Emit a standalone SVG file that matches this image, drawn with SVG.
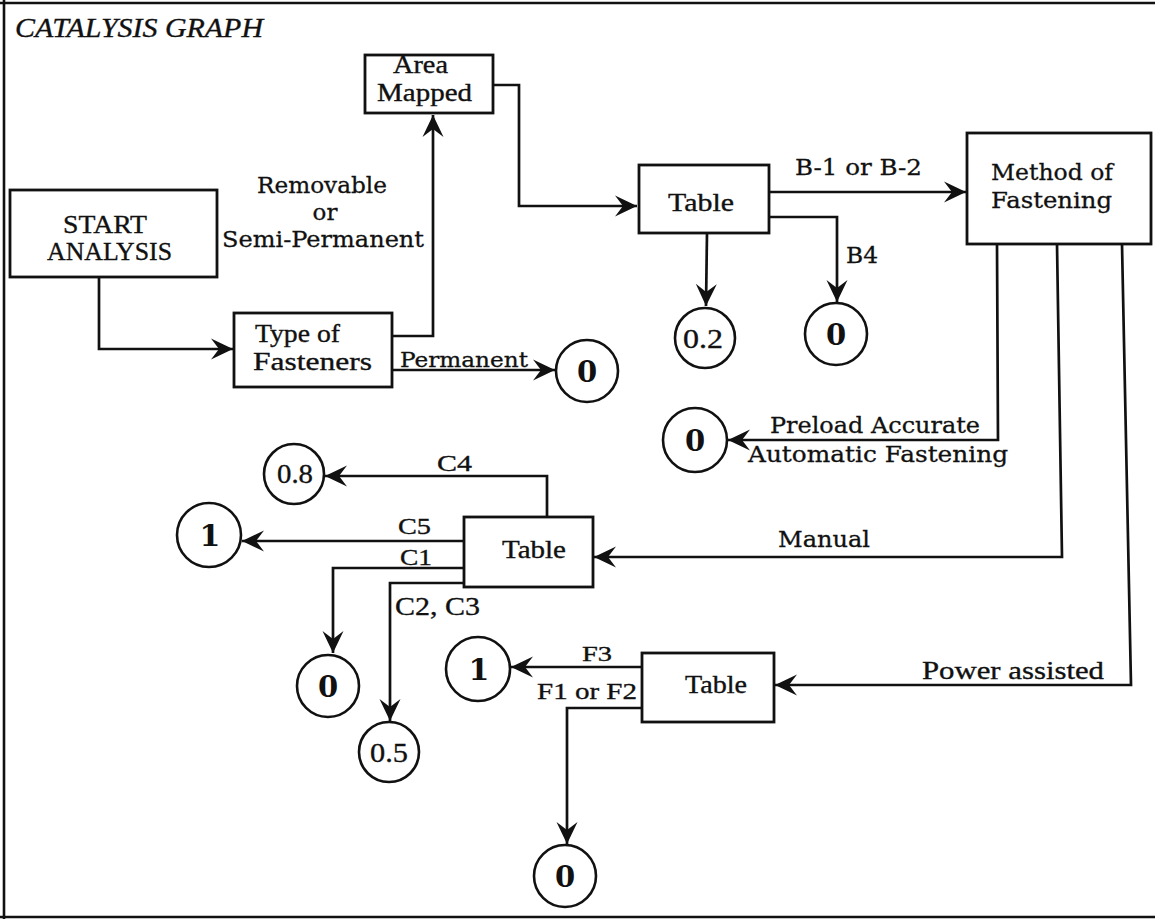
<svg xmlns="http://www.w3.org/2000/svg" width="1155" height="919" viewBox="0 0 1155 919">
<style>
.box{fill:#fff;stroke:#111;stroke-width:2.8}
.circ{fill:#fff;stroke:#111;stroke-width:2.6}
.ln{fill:none;stroke:#111;stroke-width:2.7;stroke-linejoin:miter}
.t{font-family:"Liberation Serif","Times New Roman",serif;fill:#111;stroke:#111;stroke-width:0.35}
.b{font-family:"DejaVu Serif","Liberation Serif",serif;fill:#111;stroke:#111;stroke-width:0.3}
.bold{font-family:"DejaVu Serif","Liberation Serif",serif;font-weight:bold;fill:#111;text-anchor:middle}
.mid{text-anchor:middle}
</style>
<defs>
<marker id="arr" markerUnits="userSpaceOnUse" viewBox="-24 -12 25 24" refX="0" refY="0" markerWidth="25" markerHeight="24" orient="auto">
<path d="M0,0 L-22,-10.5 L-14,0 L-22,10.5 Z" fill="#111"/>
</marker>
</defs>
<rect x="0" y="0" width="1155" height="919" fill="#fff"/>
<g id="frame" fill="none" stroke="#111" stroke-width="2.6">
<line x1="0" y1="3" x2="1155" y2="3"/>
<line x1="4" y1="0" x2="4" y2="919"/>
<line x1="0" y1="917" x2="1155" y2="917"/>
</g>
<text id="title" class="t" x="15" y="37" font-size="27" font-style="italic" textLength="248" lengthAdjust="spacingAndGlyphs">CATALYSIS GRAPH</text>

<g id="connectors">
<polyline class="ln" points="99,277 99,349 233,349" marker-end="url(#arr)"/>
<polyline class="ln" points="392,336 433,336 433,115" marker-end="url(#arr)"/>
<polyline class="ln" points="392,370 555,370" marker-end="url(#arr)"/>
<polyline class="ln" points="493,85 519,85 519,206 637,206" marker-end="url(#arr)"/>
<polyline class="ln" points="707,233 706,306" marker-end="url(#arr)"/>
<polyline class="ln" points="769,192 966,192" marker-end="url(#arr)"/>
<polyline class="ln" points="769,217 837,217 837,302" marker-end="url(#arr)"/>
<polyline class="ln" points="997,244 998,440 728,440" marker-end="url(#arr)"/>
<polyline class="ln" points="1057,244 1062,557 594,557" marker-end="url(#arr)"/>
<polyline class="ln" points="1122,244 1131,685 775,685" marker-end="url(#arr)"/>
<polyline class="ln" points="547,517 547,476 325,476" marker-end="url(#arr)"/>
<polyline class="ln" points="464,541 242,541" marker-end="url(#arr)"/>
<polyline class="ln" points="470,568 333,568 333,653" marker-end="url(#arr)"/>
<polyline class="ln" points="464,583 390,583 390,721" marker-end="url(#arr)"/>
<polyline class="ln" points="642,667 511,667" marker-end="url(#arr)"/>
<polyline class="ln" points="642,708 567,708 567,844" marker-end="url(#arr)"/>
</g>

<g id="labels">
<text class="b" x="257" y="193" font-size="23" textLength="130" lengthAdjust="spacingAndGlyphs">Removable</text>
<text class="b mid" x="325" y="220" font-size="23">or</text>
<text class="b" x="222" y="247" font-size="23" textLength="202" lengthAdjust="spacingAndGlyphs">Semi-Permanent</text>
<text class="b" x="400" y="367" font-size="20" textLength="128" lengthAdjust="spacingAndGlyphs">Permanent</text>
<text class="b" x="795" y="175" font-size="22" textLength="127" lengthAdjust="spacingAndGlyphs">B-1 or B-2</text>
<text class="b" x="846" y="263" font-size="22" textLength="32" lengthAdjust="spacingAndGlyphs">B4</text>
<text class="b" x="770" y="433" font-size="22" textLength="210" lengthAdjust="spacingAndGlyphs">Preload Accurate</text>
<text class="b" x="748" y="462" font-size="22" textLength="260" lengthAdjust="spacingAndGlyphs">Automatic Fastening</text>
<text class="b" x="778" y="547" font-size="22" textLength="92" lengthAdjust="spacingAndGlyphs">Manual</text>
<text class="t" x="922" y="679" font-size="26" textLength="182" lengthAdjust="spacingAndGlyphs">Power assisted</text>
<text class="t" x="437" y="471" font-size="24" textLength="35" lengthAdjust="spacingAndGlyphs">C4</text>
<text class="t" x="398" y="534" font-size="24" textLength="33" lengthAdjust="spacingAndGlyphs">C5</text>
<text class="t" x="400" y="565" font-size="24" textLength="32" lengthAdjust="spacingAndGlyphs">C1</text>
<text class="t" x="395" y="615" font-size="26" textLength="85" lengthAdjust="spacingAndGlyphs">C2, C3</text>
<text class="t" x="582" y="661" font-size="22" textLength="30" lengthAdjust="spacingAndGlyphs">F3</text>
<text class="t" x="537" y="699" font-size="24" textLength="100" lengthAdjust="spacingAndGlyphs">F1 or F2</text>
</g>

<g id="start">
<rect class="box" x="10" y="190" width="207" height="87"/>
<text class="t" x="63" y="233" font-size="26" textLength="84" lengthAdjust="spacingAndGlyphs">START</text>
<text class="t" x="47" y="260" font-size="26" textLength="125" lengthAdjust="spacingAndGlyphs">ANALYSIS</text>
</g>
<g id="type">
<rect class="box" x="234" y="313" width="158" height="74"/>
<text class="t" x="255" y="342" font-size="26" textLength="85" lengthAdjust="spacingAndGlyphs">Type of</text>
<text class="t" x="253" y="370" font-size="26" textLength="119" lengthAdjust="spacingAndGlyphs">Fasteners</text>
</g>
<g id="area">
<rect class="box" x="365" y="55" width="128" height="58"/>
<text class="t" x="393" y="73" font-size="25" textLength="55" lengthAdjust="spacingAndGlyphs">Area</text>
<text class="t" x="377" y="101" font-size="25" textLength="95" lengthAdjust="spacingAndGlyphs">Mapped</text>
</g>
<g id="table1">
<rect class="box" x="639" y="165" width="130" height="68"/>
<text class="t" x="668" y="211" font-size="26" textLength="66" lengthAdjust="spacingAndGlyphs">Table</text>
</g>
<g id="method">
<rect class="box" x="967" y="133" width="184" height="111"/>
<text class="b" x="991" y="180" font-size="22" textLength="122" lengthAdjust="spacingAndGlyphs">Method of</text>
<text class="b" x="991" y="208" font-size="22" textLength="121" lengthAdjust="spacingAndGlyphs">Fastening</text>
</g>
<g id="table2">
<rect class="box" x="464" y="517" width="129" height="70"/>
<text class="t" x="502" y="558" font-size="25" textLength="64" lengthAdjust="spacingAndGlyphs">Table</text>
</g>
<g id="table3">
<rect class="box" x="642" y="653" width="132" height="69"/>
<text class="t" x="685" y="693" font-size="25" textLength="62" lengthAdjust="spacingAndGlyphs">Table</text>
</g>

<g id="r-perm"><circle class="circ" cx="587" cy="371" r="31"/><text class="bold" x="587" y="382" font-size="29">0</text></g>
<g id="r-02"><circle class="circ" cx="705" cy="338" r="30"/><text class="t mid" x="703" y="348" font-size="28" textLength="40" lengthAdjust="spacingAndGlyphs">0.2</text></g>
<g id="r-b4"><circle class="circ" cx="836" cy="334" r="31"/><text class="bold" x="836" y="345" font-size="29">0</text></g>
<g id="r-pre"><circle class="circ" cx="695" cy="440" r="32"/><text class="bold" x="695" y="451" font-size="29">0</text></g>
<g id="r-08"><circle class="circ" cx="294" cy="474" r="30"/><text class="t mid" x="295" y="483" font-size="28" textLength="36" lengthAdjust="spacingAndGlyphs">0.8</text></g>
<g id="r-c5"><circle class="circ" cx="209" cy="535" r="32"/><text class="bold" x="210" y="546" font-size="30">1</text></g>
<g id="r-c1"><circle class="circ" cx="328" cy="686" r="31"/><text class="bold" x="328" y="697" font-size="29">0</text></g>
<g id="r-05"><circle class="circ" cx="389" cy="752" r="30"/><text class="t mid" x="389" y="762" font-size="28" textLength="38" lengthAdjust="spacingAndGlyphs">0.5</text></g>
<g id="r-f3"><circle class="circ" cx="478" cy="669" r="32"/><text class="bold" x="479" y="680" font-size="30">1</text></g>
<g id="r-f12"><circle class="circ" cx="565" cy="876" r="31"/><text class="bold" x="565" y="887" font-size="29">0</text></g>
</svg>
